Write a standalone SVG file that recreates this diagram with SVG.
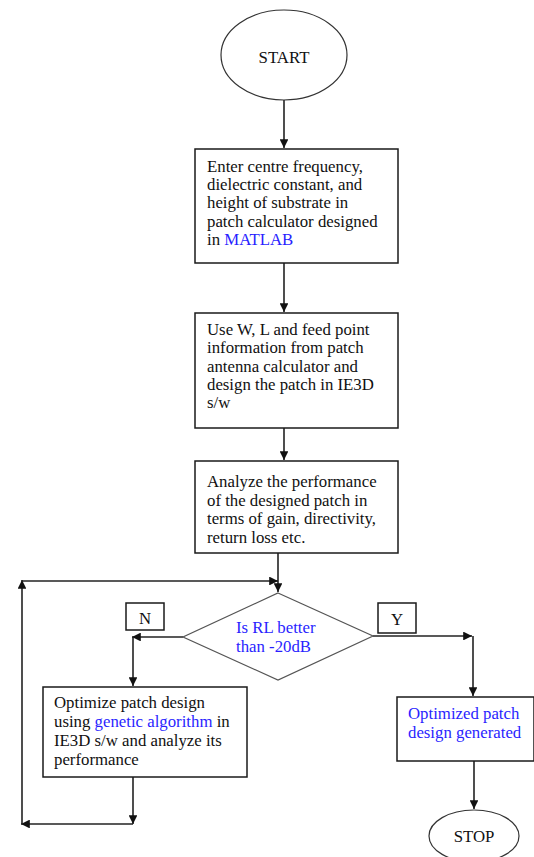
<svg xmlns="http://www.w3.org/2000/svg" width="534" height="857" viewBox="0 0 534 857">
<style>
.t{font-family:"Liberation Serif","Times New Roman",serif;font-size:16.8px;fill:#111}
.b{fill:#2a1fff}
.box{fill:#fff;stroke:#1a1a1a;stroke-width:1.5}
.ln{fill:none;stroke:#222;stroke-width:1.6}
</style>
<defs>
<marker id="ah" viewBox="0 0 10 10" refX="10" refY="5" markerWidth="5.5" markerHeight="5.5" orient="auto" markerUnits="strokeWidth">
<path d="M0,0 L10,5 L0,10 z" fill="#111"/>
</marker>
</defs>
<rect width="534" height="857" fill="#fff"/>
<g id="connectors">
<path class="ln" d="M284,100 V148" marker-end="url(#ah)"/>
<path class="ln" d="M284,263 V312" marker-end="url(#ah)"/>
<path class="ln" d="M284,428 V460" marker-end="url(#ah)"/>
<path class="ln" d="M278,553 V592" marker-end="url(#ah)"/>
<path class="ln" d="M183,637 H132" marker-end="url(#ah)"/>
<path class="ln" d="M133,637 V686" marker-end="url(#ah)"/>
<path class="ln" d="M373,636 H472" marker-end="url(#ah)"/>
<path class="ln" d="M473,636 V696" marker-end="url(#ah)"/>
<path class="ln" d="M474,761 V809" marker-end="url(#ah)"/>
<path class="ln" d="M133,777 V824" marker-end="url(#ah)"/>
<path class="ln" d="M133,824 H21" marker-end="url(#ah)"/>
<path class="ln" d="M22,824 V580" marker-end="url(#ah)"/>
<path class="ln" d="M22,581 H278" marker-end="url(#ah)"/>
</g>
<g id="start">
<ellipse cx="284" cy="55" rx="63" ry="45" fill="#fff" stroke="#333" stroke-width="1.2"/>
<text class="t" x="284" y="63" text-anchor="middle">START</text>
</g>
<g id="box1">
<rect class="box" x="195" y="149" width="203" height="114"/>
<text class="t" x="207" y="172">Enter centre frequency,</text>
<text class="t" x="207" y="190">dielectric constant, and</text>
<text class="t" x="207" y="208">height of substrate in</text>
<text class="t" x="207" y="227">patch calculator designed</text>
<text class="t" x="207" y="245">in <tspan class="b">MATLAB</tspan></text>
</g>
<g id="box2">
<rect class="box" x="195" y="313" width="203" height="115"/>
<text class="t" x="207" y="335">Use W, L and feed point</text>
<text class="t" x="207" y="353">information from patch</text>
<text class="t" x="207" y="372">antenna calculator and</text>
<text class="t" x="207" y="390">design the patch in IE3D</text>
<text class="t" x="207" y="408">s/w</text>
</g>
<g id="box3">
<rect class="box" x="195" y="461" width="203" height="92"/>
<text class="t" x="207" y="487">Analyze the performance</text>
<text class="t" x="207" y="506">of the designed patch in</text>
<text class="t" x="207" y="524">terms of gain, directivity,</text>
<text class="t" x="207" y="543">return loss etc.</text>
</g>
<g id="decision">
<path d="M278,593 L373,636 L278,680 L183,637 Z" fill="#fff" stroke="#555" stroke-width="1.2"/>
<text class="t b" x="236" y="633">Is RL better</text>
<text class="t b" x="236" y="652">than -20dB</text>
</g>
<g id="labelN">
<rect class="box" x="126" y="603" width="38" height="27" stroke-width="1.3"/>
<text class="t" x="145" y="624" text-anchor="middle">N</text>
</g>
<g id="labelY">
<rect class="box" x="378" y="603" width="38" height="30" stroke-width="1.3"/>
<text class="t" x="397" y="625" text-anchor="middle">Y</text>
</g>
<g id="box4">
<rect class="box" x="43" y="687" width="204" height="90"/>
<text class="t" x="54" y="708">Optimize patch design</text>
<text class="t" x="54" y="727">using <tspan class="b">genetic algorithm</tspan> in</text>
<text class="t" x="54" y="746">IE3D s/w and analyze its</text>
<text class="t" x="54" y="765">performance</text>
</g>
<g id="box5">
<rect class="box" x="397" y="697" width="137" height="64"/>
<text class="t b" x="408" y="719">Optimized patch</text>
<text class="t b" x="408" y="738">design generated</text>
</g>
<g id="stop">
<ellipse cx="474" cy="836" rx="45" ry="26" fill="#fff" stroke="#333" stroke-width="1.2"/>
<text class="t" x="474" y="842" text-anchor="middle">STOP</text>
</g>
</svg>
